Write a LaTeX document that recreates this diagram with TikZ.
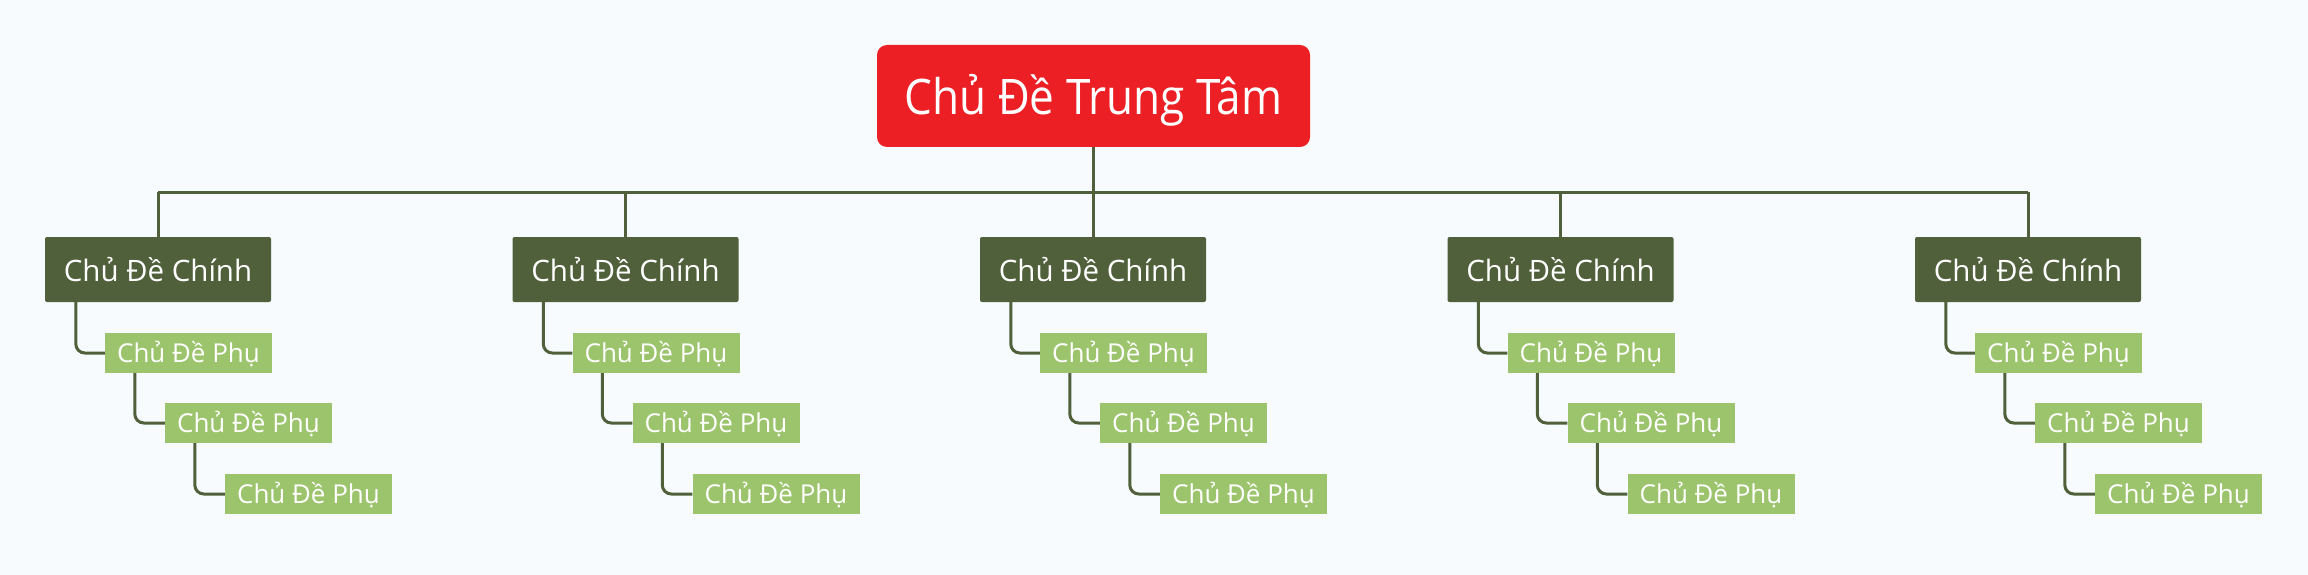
\documentclass[tikz,border=0pt]{standalone}
\usepackage{fontspec}
\setmainfont{Open Sans}
\definecolor{bg}{HTML}{F7FBFD}
\definecolor{cred}{HTML}{EB1F24}
\definecolor{dgreen}{HTML}{4F603B}
\definecolor{lgreen}{HTML}{9CC46C}
\tikzset{
  central/.style={fill=cred, rounded corners=10pt, text=white, inner sep=0pt,
    minimum width=433pt, minimum height=102pt, font=\fontsize{49}{51}\selectfont,
    text height=38pt, text depth=0pt},
  mainbox/.style={fill=dgreen, rounded corners=2pt, text=white, inner sep=0pt,
    minimum width=226pt, minimum height=65pt, font=\fontsize{29.5}{31}\selectfont,
    text height=24.4pt, text depth=0pt},
  subbox/.style={fill=lgreen, text=white, inner sep=0pt,
    minimum width=167pt, minimum height=40pt, font=\fontsize{26}{28}\selectfont,
    text height=19.4pt, text depth=0pt},
  conn/.style={draw=dgreen, line width=3pt},
  subconn/.style={draw=dgreen, line width=3pt, rounded corners=9pt},
}
\begin{document}
\begin{tikzpicture}[x=1pt,y=-1pt]
\fill[bg] (0,0) rectangle (2308,575);
\useasboundingbox (0,0) rectangle (2308,575);
\node[central] (c) at (1093.5,96) {\scalebox{0.9}[1]{Chủ Đề Trung Tâm}};
\coordinate (bus) at (1093.5,192);
\draw[conn] (c.south) -- (bus);
\foreach \i in {0,...,4} {
  \pgfmathsetmacro{\cx}{158+467.5*\i}
  \node[mainbox] (m\i) at (\cx,269.5) {Chủ Đề Chính};
  \node[subbox] (a\i) at ({\cx-113+60+83.5},353) {Chủ Đề Phụ};
  \node[subbox] (b\i) at ({\cx-113+120+83.5},423) {Chủ Đề Phụ};
  \node[subbox] (d\i) at ({\cx-113+180+83.5},494) {Chủ Đề Phụ};
  \draw[conn] (m\i.north) -- (m\i.north |- bus);
  \draw[subconn] ([xshift=31pt]m\i.south west) |- (a\i.west);
  \draw[subconn] ([xshift=30pt]a\i.south west) |- (b\i.west);
  \draw[subconn] ([xshift=30pt]b\i.south west) |- (d\i.west);
}
\draw[conn] (m0.north |- bus) -- (m4.north |- bus);
\end{tikzpicture}
\end{document}
